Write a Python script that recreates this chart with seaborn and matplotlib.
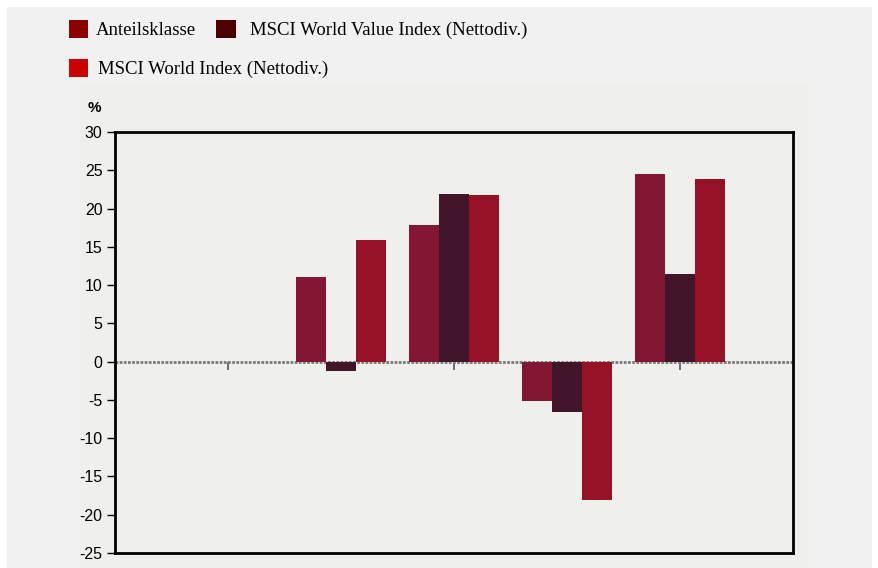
import pandas as pd
import numpy as np
import seaborn as sns
import matplotlib.pyplot as plt
from matplotlib.patches import Patch, Rectangle

# Data (yearly returns in %)
years = ['2019', '2020', '2021', '2022', '2023']
fund = [np.nan, 11.1, 17.8, -5.1, 24.5]
value_index = [np.nan, -1.2, 21.9, -6.6, 11.5]
world_index = [np.nan, 15.9, 21.8, -18.1, 23.8]
series_names = ['Anteilsklasse', 'MSCI World Value Index (Nettodiv.)', 'MSCI World Index (Nettodiv.)']
yticks = list(range(-25, 31, 5))

bar_colors = ['#831632', '#42152a', '#961326']
legend_colors = ['#8b0000', '#4d0000', '#cc0000']

df = pd.DataFrame({
    'year': years * 3,
    'series': [series_names[0]] * 5 + [series_names[1]] * 5 + [series_names[2]] * 5,
    'value': fund + value_index + world_index,
})

sns.set_style('white')
plt.rcParams['font.family'] = ['Liberation Sans', 'DejaVu Sans']
plt.rcParams['text.color'] = 'black'

fig = plt.figure(figsize=(8.79, 5.68), dpi=100, facecolor='white')
# grey page and chart panel backgrounds
fig.patches.append(Rectangle((7 / 879, 0), 865 / 879, 561 / 568, transform=fig.transFigure,
                             facecolor='#f1f1f1', edgecolor='none', zorder=-10))
fig.patches.append(Rectangle((79 / 879, 0), 730 / 879, 484 / 568, transform=fig.transFigure,
                             facecolor='#efefeb', edgecolor='none', zorder=-9))

ax = fig.add_axes([115 / 879, 15 / 568, 678 / 879, 421 / 568])
ax.set_facecolor('#efefeb')

ax.axhline(0, color='#7a7a7a', lw=2, ls=(0, (1, 0.5)), zorder=1)
sns.barplot(data=df, x='year', y='value', hue='series', order=years, hue_order=series_names,
            palette=bar_colors, width=0.8, saturation=1, ax=ax, legend=False,
            linewidth=0, edgecolor='none', zorder=2)

ax.set_xlim(-1, 5)
ax.set_ylim(-25, 30)
ax.set_yticks(yticks)
ax.set_yticklabels([str(t) for t in yticks], fontsize=11.5, color='black')
ax.set_xticks([])
ax.set_xlabel('')
ax.set_ylabel('')
ax.tick_params(axis='y', left=True, direction='out', length=6, width=1, color='black', pad=3)
for sp in ax.spines.values():
    sp.set_color('black')
    sp.set_linewidth(2)

# small ticks on the zero line
sec = ax.secondary_xaxis(25 / 55)
sec.set_xticks(range(len(years)))
sec.set_xticklabels([])
sec.tick_params(bottom=True, direction='out', length=6, width=1.2, color='#555555')
sec.spines['bottom'].set_visible(False)

fig.text(88 / 879, 1 - 108 / 568, '%', fontsize=11, fontweight='bold', va='center', ha='left')

# legend: one entry each, placed like the original
h = [Patch(facecolor=c, edgecolor='none') for c in legend_colors]
leg_pos = [(61, 12, 0.4), (209, 12, 0.75), (61, 51, 0.5)]
for handle, name, (lx, ly, pad) in zip(h, series_names, leg_pos):
    fig.legend([handle], [name], loc='upper left', bbox_to_anchor=(lx / 879, 1 - ly / 568),
               frameon=False, handlelength=1.05, handleheight=1.1, handletextpad=pad,
               borderaxespad=0, prop={'family': 'Liberation Serif', 'size': 13.5})

fig.savefig('out.png', dpi=100, facecolor=fig.get_facecolor())
